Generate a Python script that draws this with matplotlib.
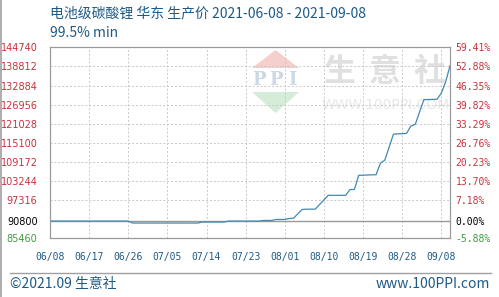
import matplotlib
matplotlib.use("Agg")
import matplotlib.pyplot as plt
from matplotlib.patches import Polygon
from matplotlib.lines import Line2D

# data: day offset from 2021-06-08 and price (yuan/ton)
days = [0, 18, 19, 34, 35, 40, 41, 48, 49, 51, 52, 54, 55, 56, 58, 59, 61, 64, 68,
        69, 70, 71, 75, 76, 77, 79, 82, 83, 84, 86, 89, 90, 91, 92]
prices = [90800, 90800, 90200, 90200, 90500, 90500, 90800, 90800, 91000, 91000,
          91300, 91300, 91600, 91700, 94400, 94500, 94500, 98800, 98800, 100600,
          100600, 105000, 105200, 108800, 109700, 117800, 118000, 120300, 120800,
          128500, 128600, 130500, 134000, 139000]

xtick_pos = [0, 9, 18, 27, 36, 45, 54, 63, 72, 81, 90]
xtick_labels = ["06/08", "06/17", "06/26", "07/05", "07/14", "07/23",
                "08/01", "08/10", "08/19", "08/28", "09/08"]
ytick_vals = [144740, 138812, 132884, 126956, 121028, 115100, 109172,
              103244, 97316, 90800, 85460]
pct_labels = ["59.41%", "52.88%", "46.35%", "39.82%", "33.29%", "26.76%",
              "20.23%", "13.70%", "7.18%", "0.00%", "-5.88%"]
base = 90800

RED = "#c8323c"
GREEN = "#3f9a3f"
BLUE_TXT = "#1f5a86"
CJK = ["Noto Sans CJK SC", "DejaVu Sans"]

W, H = 499, 297
fig = plt.figure(figsize=(W / 100, H / 100), dpi=100)

# watermark layer in pixel coords
wm = fig.add_axes([0, 0, 1, 1], zorder=0)
wm.set_xlim(0, W)
wm.set_ylim(H, 0)
wm.axis("off")
wm.add_patch(Polygon([(252, 68), (299, 68), (275.5, 50)], closed=True,
                     color="#f5cfcb", lw=0))
wm.add_patch(Polygon([(252, 92), (299, 92), (275.5, 113)], closed=True,
                     color="#d5ecd9", lw=0))
for cx, ch in zip([259, 275.5, 292], "PPI"):
    wm.text(cx, 80, ch, ha="center", va="center", fontsize=13,
            family="DejaVu Serif", fontweight="bold", color="#cdd8e6")
for cx, ch in zip([339, 385, 430], "生意社"):
    wm.text(cx, 72, ch, ha="center", va="center", fontsize=23,
            family=CJK, fontweight="bold", color="#e0e0e0")
wm.text(386, 105, "WWW.100PPI.COM", ha="center", va="center", fontsize=10,
        color="#e8e8e8")

ax = fig.add_axes([50 / W, 1 - 238.3 / H, 400 / W, 191 / H], zorder=1)
ax.set_facecolor("none")
ax.plot(days, prices, color="#4189b3", lw=0.9, zorder=3)
ax.axhline(base, color="#999999", lw=1.0, zorder=2)

ax.set_xlim(0, 92)
ax.set_ylim(85460, 144740)
ax.set_xticks(xtick_pos)
ax.set_xticklabels(xtick_labels, family="DejaVu Sans Mono", fontsize=7,
                   color=BLUE_TXT)
ax.set_yticks(ytick_vals)
ax.set_yticklabels([str(v) for v in ytick_vals], fontsize=7)
ax.grid(True, color="#c8c8c8", ls=(0, (2, 2)), lw=0.7)
ax.tick_params(axis="x", length=0, pad=10)
ax.tick_params(axis="y", length=0, pad=9)
for spine in ax.spines.values():
    spine.set_color("#999999")

ax2 = ax.twinx()
ax2.set_ylim(ax.get_ylim())
ax2.set_yticks(ytick_vals)
ax2.set_yticklabels(pct_labels, family="DejaVu Sans Mono", fontsize=7)
ax2.tick_params(axis="y", length=0, pad=4)
for spine in ax2.spines.values():
    spine.set_color("#999999")

for labels in (ax.get_yticklabels(), ax2.get_yticklabels()):
    for lab, v in zip(labels, ytick_vals):
        if v > base:
            lab.set_color(RED)
        elif v == base:
            lab.set_color("black")
        else:
            lab.set_color(GREEN)

fig.text(50 / W, 1 - 13 / H, "电池级碳酸锂 华东 生产价 2021-06-08 - 2021-09-08",
         family=CJK, fontsize=10, color=BLUE_TXT, va="center")
fig.text(50 / W, 1 - 33 / H, "99.5% min", family=CJK, fontsize=10,
         color=BLUE_TXT, va="center")

fig.add_artist(Line2D([10 / W, 491 / W], [1 - 273 / H, 1 - 273 / H],
                      color="#a0a0a0", lw=1))
fig.add_artist(Line2D([0.5 / W, 0.5 / W], [0, 1], color="#a0a0a0", lw=1.2))
fig.text(10 / W, 1 - 284 / H, "©2021.09 生意社", family=CJK, fontsize=10,
         color=BLUE_TXT, va="center")
fig.text(490 / W, 1 - 284 / H, "www.100PPI.com", family=CJK, fontsize=10,
         color=BLUE_TXT, va="center", ha="right")

fig.savefig("out.png", dpi=100)
